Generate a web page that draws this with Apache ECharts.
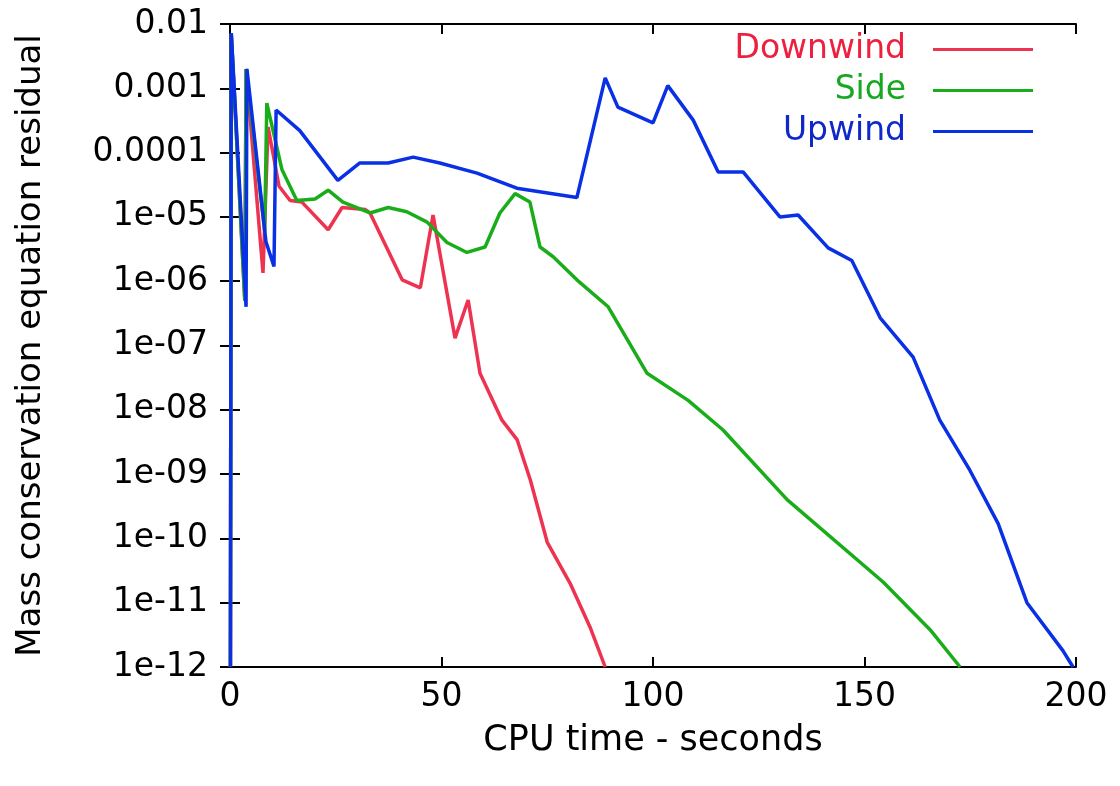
<!DOCTYPE html>
<html>
<head>
<meta charset="utf-8">
<script src="https://cdn.jsdelivr.net/npm/echarts@6/dist/echarts.min.js"></script>
<style>
html,body{margin:0;padding:0;background:#fff;}
#chart{width:1120px;height:786px;}
</style>
</head>
<body>
<div id="chart"></div>
<script>
// CPU time (s) and residual values
const downwind = [
  [0.1,1e-12],[0.3,7e-3],[3.5,5e-7],[3.8,2e-3],[7.8,1.35e-6],[9.0,2.5e-4],[11.6,3e-5],[14.2,1.8e-5],
  [17.0,1.7e-5],[23.2,6.3e-6],[26.5,1.4e-5],[32.0,1.3e-5],[33.1,1.15e-5],[40.7,1.05e-6],[45.0,7.9e-7],
  [48.0,1.07e-5],[53.2,1.3e-7],[56.3,5.1e-7],[59.1,3.7e-8],[64.3,6.9e-9],[67.9,3.4e-9],[71.0,8.1e-10],
  [75.0,8.7e-11],[80.4,2e-11],[85.1,4.2e-12],[88.7,1e-12]
];
const side = [
  [0.1,1e-12],[0.3,7e-3],[3.5,5e-7],[3.8,2e-3],[8.2,6e-6],[8.7,5.9e-4],[12.3,5.4e-5],[15.8,1.8e-5],
  [20.1,1.9e-5],[23.2,2.6e-5],[26.7,1.7e-5],[33.1,1.15e-5],[37.4,1.4e-5],[41.8,1.2e-5],[46.6,8.3e-6],
  [51.3,4e-6],[56.0,2.8e-6],[60.3,3.4e-6],[63.8,1.15e-5],[67.4,2.3e-5],[70.9,1.7e-5],[73.3,3.4e-6],
  [76.4,2.4e-6],[82.0,1.05e-6],[89.4,4e-7],[98.6,3.7e-8],[108.3,1.4e-8],[116.5,4.9e-9],[131.7,4e-10],
  [154.4,2.1e-11],[165.5,3.8e-12],[172.6,1e-12]
];
const upwind = [
  [0.1,1e-12],[0.3,7.2e-3],[3.8,4e-7],[4.0,2e-3],[8.5,4.1e-6],[10.4,1.7e-6],[10.9,4.6e-4],[16.5,2.2e-4],
  [25.5,3.7e-5],[30.7,6.9e-5],[37.4,6.9e-5],[43.3,8.5e-5],[49.6,6.9e-5],[58.4,4.8e-5],[67.8,2.8e-5],
  [82.0,2e-5],[88.7,1.45e-3],[91.7,5.1e-4],[100.0,2.9e-4],[103.5,1.1e-3],[109.5,3.2e-4],[115.4,5e-5],
  [121.3,5e-5],[130.0,1e-5],[134.3,1.07e-5],[141.4,3.3e-6],[147.0,2.1e-6],[153.7,2.7e-7],[161.5,6.6e-8],
  [167.8,6.9e-9],[174.9,1.15e-9],[181.6,1.7e-10],[188.4,1e-11],[196.9,1.8e-12],[199.3,1e-12]
];
const seriesNames = ['Downwind','Side','Upwind'];
const yTickLabels = ['1e-12','1e-11','1e-10','1e-09','1e-08','1e-07','1e-06','1e-05','0.0001','0.001','0.01'];
const xTickLabels = ['0','50','100','150','200'];

const lineColors = ['#ee3350','#1aad1a','#0a30e6'];
const textColors = ['#ee2040','#18a820','#1028c8'];
const FONT = 'DejaVu Sans';

const chart = echarts.init(document.getElementById('chart'));
const axisLine = {show:true, lineStyle:{color:'#000', width:2}};
const axisTick = {show:true, inside:true, length:10, lineStyle:{color:'#000', width:2}};
const yLabel = function(v){
  const e = Math.round(Math.log10(v));
  const idx = e + 12;
  return yTickLabels[idx] !== undefined ? yTickLabels[idx] : '';
};
const xLabel = function(v){
  const idx = Math.round(v/50);
  return xTickLabels[idx] !== undefined ? xTickLabels[idx] : '';
};

chart.setOption({
  animation:false,
  backgroundColor:'#fff',
  grid:{left:230, right:44, top:24, bottom:119},
  legend:{
    orient:'vertical', right:82, top:28, align:'right',
    icon:'rect', itemWidth:100, itemHeight:3, itemGap:8,
    textStyle:{fontFamily:FONT, fontSize:33, padding:[0,22,0,0]},
    data:seriesNames.map((n,i)=>({name:n, textStyle:{color:textColors[i]}, itemStyle:{color:lineColors[i]}}))
  },
  xAxis:[
    {type:'value', min:0, max:200, interval:50, position:'bottom',
     axisLine:axisLine, axisTick:axisTick, splitLine:{show:false},
     axisLabel:{formatter:xLabel, fontFamily:FONT, fontSize:33, color:'#000', margin:14},
     name:'CPU time - seconds', nameLocation:'middle', nameGap:56,
     nameTextStyle:{fontFamily:FONT, fontSize:35, color:'#000'}},
    {type:'value', min:0, max:200, interval:50, position:'top',
     axisLine:axisLine, axisTick:axisTick, splitLine:{show:false}, axisLabel:{show:false}}
  ],
  yAxis:[
    {type:'log', logBase:10, min:1e-12, max:0.01, interval:1, position:'left',
     axisLine:axisLine, axisTick:axisTick, splitLine:{show:false}, minorTick:{show:false},
     axisLabel:{formatter:yLabel, fontFamily:FONT, fontSize:33, color:'#000', margin:22},
     name:'Mass conservation equation residual', nameLocation:'middle', nameGap:182,
     nameRotate:90, nameTextStyle:{fontFamily:FONT, fontSize:34, color:'#000'}},
    {type:'log', logBase:10, min:1e-12, max:0.01, interval:1, position:'right',
     axisLine:axisLine, axisTick:axisTick, splitLine:{show:false}, axisLabel:{show:false}}
  ],
  series:[downwind, side, upwind].map((d,i)=>({
    name:seriesNames[i], type:'line', data:d, xAxisIndex:0, yAxisIndex:0,
    symbol:'none', showSymbol:false, smooth:false, clip:true,
    lineStyle:{color:lineColors[i], width:3.5}, itemStyle:{color:lineColors[i]}, z:2+i
  }))
});
</script>
</body>
</html>
